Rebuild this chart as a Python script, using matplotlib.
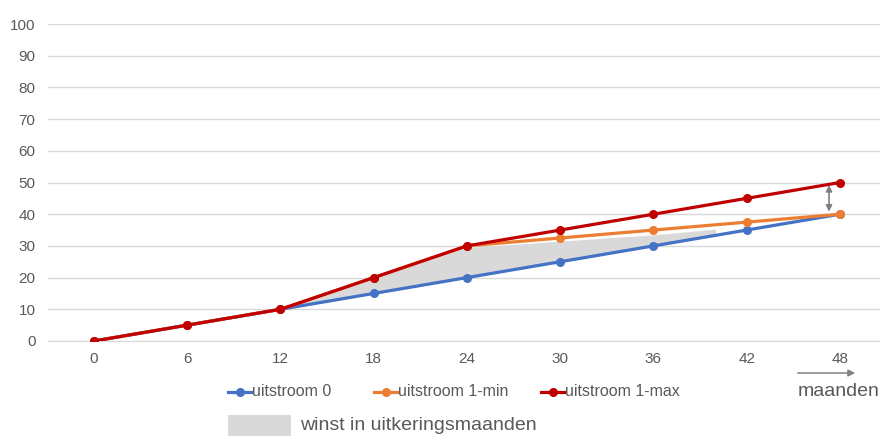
import numpy as np
import matplotlib.pyplot as plt
from matplotlib.lines import Line2D
from matplotlib.patches import Rectangle, FancyArrowPatch

plt.rcParams['font.family'] = ['Liberation Sans', 'DejaVu Sans']

maanden = [0, 6, 12, 18, 24, 30, 36, 42, 48]
uitstroom_0 = [0, 5, 10, 15, 20, 25, 30, 35, 40]
uitstroom_1min = [0, 5, 10, 20, 30, 32.5, 35, 37.5, 40]
uitstroom_1max = [0, 5, 10, 20, 30, 35, 40, 45, 50]

# shaded "winst" area (hand drawn shape in the original)
winst_x = [12, 24, 30, 36, 40]
winst_top = [10, 29.5, 31.5, 33.5, 35.3]
winst_bottom = [10, 20.5, 25.5, 30.5, 33.8]

txt = '#595959'
grid = '#D9D9D9'
kleuren = ['#4472C4', '#ED7D31', '#C00000']
namen = ['uitstroom 0', 'uitstroom 1-min', 'uitstroom 1-max']

fig = plt.figure(figsize=(8.8, 4.37), dpi=100)
ax = fig.add_axes([48 / 880, 0.2197, 832 / 880, 0.7253])

ax.fill_between(winst_x, winst_bottom, winst_top, color='#D9D9D9', lw=0, zorder=1)

for i, reeks in enumerate([uitstroom_0, uitstroom_1min, uitstroom_1max]):
    ax.plot(maanden, reeks, color=kleuren[i], lw=2.3, marker='o', ms=5.5, zorder=3 + i)

# double arrow between 1-min and 1-max at the end
ax.annotate('', xy=(47.3, 40.8), xytext=(47.3, 49.2),
            arrowprops=dict(arrowstyle='<|-|>', color='#808080', lw=1.2,
                            mutation_scale=9, shrinkA=0, shrinkB=0), zorder=6)

ax.set_xlim(-2.96, 50.58)
ax.set_ylim(0, 100)
ax.set_yticks(range(0, 101, 10))
ax.set_xticks(maanden)
ax.grid(axis='y', color=grid, lw=1)
ax.set_axisbelow(True)
for s in ['top', 'right', 'left']:
    ax.spines[s].set_visible(False)
ax.spines['bottom'].set_color(grid)
ax.tick_params(length=0, colors=txt, labelsize=11)
ax.tick_params(axis='y', pad=9)
ax.tick_params(axis='x', pad=8)

# legend, placed by hand
leg_x = [228, 374, 541]
ly = 1 - 392 / 437
for i in range(3):
    x0 = leg_x[i] / 880
    fig.add_artist(Line2D([x0, x0 + 23 / 880], [ly, ly], color=kleuren[i], lw=2.3,
                          transform=fig.transFigure))
    fig.add_artist(Line2D([x0 + 11.5 / 880], [ly], color=kleuren[i], marker='o', ms=5.5,
                          transform=fig.transFigure))
    fig.text(x0 + 24 / 880, ly, namen[i], color=txt, fontsize=11.5, va='center', ha='left')

fig.patches.append(Rectangle((228 / 880, 1 - 436 / 437), 63 / 880, 21 / 437,
                             transform=fig.transFigure, color='#D9D9D9', lw=0))
fig.text(300 / 880, 1 - 426 / 437, 'winst in uitkeringsmaanden', color=txt,
         fontsize=14, va='center', ha='left')

fig.text(839 / 880, 1 - 392 / 437, 'maanden', color=txt, fontsize=14,
         va='center', ha='center')
fig.add_artist(FancyArrowPatch(
    (795 / 880, 1 - 373 / 437), (858 / 880, 1 - 373 / 437), transform=fig.transFigure,
    arrowstyle='-|>', mutation_scale=10, color='#808080', lw=1.1))

fig.savefig('out.png', dpi=100)
